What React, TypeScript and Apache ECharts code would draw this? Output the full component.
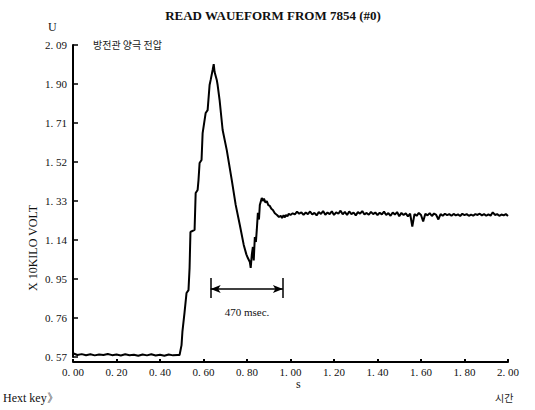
import React, { useEffect, useRef } from "react";
import * as echarts from "echarts";

const TITLE = "READ WAUEFORM FROM 7854 (#0)";
const Y_TICKS = [0.57, 0.76, 0.95, 1.14, 1.33, 1.52, 1.71, 1.9, 2.09];
const X_TICKS = [0, 0.2, 0.4, 0.6, 0.8, 1.0, 1.2, 1.4, 1.6, 1.8, 2.0];

// waveform: time (s) and voltage (x10 kV)
const baseTimes = [0.0, 0.02, 0.04, 0.06, 0.08, 0.1, 0.12, 0.14, 0.16, 0.18, 0.2, 0.22, 0.24, 0.26, 0.28, 0.3, 0.32, 0.34, 0.36, 0.38, 0.4, 0.42, 0.44, 0.46, 0.48];
const baseVolts = [0.588, 0.58, 0.584, 0.579, 0.583, 0.578, 0.582, 0.58, 0.585, 0.579, 0.582, 0.577, 0.583, 0.579, 0.581, 0.576, 0.582, 0.578, 0.583, 0.577, 0.581, 0.576, 0.582, 0.578, 0.58];

const pulseTimes = [0.49, 0.499, 0.503, 0.513, 0.522, 0.531, 0.536, 0.54, 0.559, 0.564, 0.573, 0.577, 0.582, 0.591, 0.596, 0.61, 0.619, 0.628, 0.633, 0.642, 0.647, 0.651, 0.661, 0.665, 0.674, 0.688, 0.707, 0.73, 0.748, 0.767, 0.785, 0.797, 0.804, 0.813, 0.817, 0.822, 0.827, 0.831, 0.836, 0.841, 0.845, 0.85, 0.855, 0.859, 0.868, 0.873, 0.878, 0.885, 0.891, 0.898, 0.905, 0.912, 0.919, 0.928, 0.938, 0.947, 0.955, 0.961, 0.968, 0.974, 0.979, 0.986, 0.992];
const pulseVolts = [0.58, 0.628, 0.692, 0.789, 0.882, 0.896, 1.004, 1.179, 1.189, 1.369, 1.384, 1.432, 1.515, 1.53, 1.661, 1.759, 1.773, 1.895, 1.92, 1.968, 1.997, 1.958, 1.92, 1.895, 1.822, 1.676, 1.578, 1.432, 1.311, 1.213, 1.116, 1.07, 1.052, 1.033, 1.004, 1.067, 1.106, 1.04, 1.155, 1.13, 1.189, 1.272, 1.24, 1.311, 1.345, 1.33, 1.342, 1.322, 1.33, 1.31, 1.306, 1.292, 1.286, 1.27, 1.262, 1.252, 1.258, 1.247, 1.26, 1.25, 1.262, 1.255, 1.268];

const plateauTimes = [1.0, 1.01, 1.02, 1.03, 1.04, 1.05, 1.06, 1.07, 1.08, 1.09, 1.1, 1.11, 1.12, 1.13, 1.14, 1.15, 1.16, 1.17, 1.18, 1.19, 1.2, 1.21, 1.22, 1.23, 1.24, 1.25, 1.26, 1.27, 1.28, 1.29, 1.3, 1.31, 1.32, 1.33, 1.34, 1.35, 1.36, 1.37, 1.38, 1.39, 1.4, 1.41, 1.42, 1.43, 1.44, 1.45, 1.46, 1.47, 1.48, 1.49, 1.5, 1.51, 1.52, 1.53, 1.54, 1.55, 1.56, 1.57, 1.58, 1.59, 1.6, 1.61, 1.62, 1.63, 1.64, 1.65, 1.66, 1.67, 1.68, 1.69, 1.7, 1.71, 1.72, 1.73, 1.74, 1.75, 1.76, 1.77, 1.78, 1.79, 1.8, 1.81, 1.82, 1.83, 1.84, 1.85, 1.86, 1.87, 1.88, 1.89, 1.9, 1.91, 1.92, 1.93, 1.94, 1.95, 1.96, 1.97, 1.98, 1.99, 2.0];
const plateauVolts = [1.262, 1.27, 1.265, 1.278, 1.268, 1.275, 1.262, 1.274, 1.266, 1.279, 1.264, 1.272, 1.26, 1.276, 1.267, 1.281, 1.263, 1.274, 1.266, 1.28, 1.262, 1.275, 1.268, 1.283, 1.265, 1.277, 1.262, 1.279, 1.266, 1.274, 1.26, 1.276, 1.268, 1.281, 1.264, 1.272, 1.263, 1.277, 1.266, 1.274, 1.261, 1.273, 1.265, 1.278, 1.262, 1.271, 1.258, 1.274, 1.264, 1.276, 1.256, 1.272, 1.262, 1.27, 1.255, 1.268, 1.205, 1.266, 1.258, 1.272, 1.262, 1.23, 1.268, 1.26, 1.271, 1.257, 1.269, 1.262, 1.24, 1.266, 1.258, 1.268, 1.261, 1.266, 1.258, 1.267, 1.26, 1.265, 1.257, 1.268, 1.261, 1.266, 1.258, 1.264, 1.259, 1.266, 1.262, 1.268, 1.26, 1.266, 1.258, 1.265, 1.259, 1.275, 1.262, 1.266, 1.258, 1.264, 1.26, 1.266, 1.257];

// annotation: interval marker
const MARK_START = 0.633;
const MARK_END = 0.965;
const MARK_LEVEL = 0.901;
const MARK_LOW = 0.857;
const MARK_HIGH = 0.955;
const MARK_TEXT = "470 msec.";
const MARK_TEXT_POS = [0.8, 0.79];

const SERIF = "'Liberation Serif', 'DejaVu Serif', serif";
const KR = "'Noto Sans CJK KR', sans-serif";

function fmt(v: number) {
  return v.toFixed(2).replace(".", ". ");
}

export default function App() {
  const ref = useRef<HTMLDivElement>(null);
  useEffect(() => {
    if (!ref.current) return;
    const chart = echarts.init(ref.current, null, { renderer: "svg" });
    const times = [...baseTimes, ...pulseTimes, ...plateauTimes];
    const volts = [...baseVolts, ...pulseVolts, ...plateauVolts];
    const data = times.map((t, i) => [t, volts[i]]);
    chart.setOption({
      animation: false,
      backgroundColor: "#fff",
      title: {
        text: TITLE,
        left: 268,
        top: 4,
        textAlign: "center",
        textStyle: { fontFamily: SERIF, fontSize: 13, fontWeight: "bold", color: "#111" },
      },
      grid: { left: 73, right: 27, top: 45, bottom: 53 },
      xAxis: {
        type: "value",
        min: 0,
        max: 2,
        interval: 0.2,
        offset: 5,
        axisLine: { lineStyle: { color: "#000", width: 2 } },
        axisTick: { inside: true, length: 3, lineStyle: { color: "#000", width: 2 } },
        axisLabel: {
          margin: 4,
          color: "#111",
          fontFamily: SERIF,
          fontSize: 11,
          formatter: (v: number) => fmt(v),
          customValues: X_TICKS,
        },
        splitLine: { show: false },
      },
      yAxis: {
        type: "value",
        min: 0.57,
        max: 2.09,
        interval: 0.19,
        axisLine: { onZero: false, lineStyle: { color: "#000", width: 2 } },
        axisTick: { inside: true, length: 5, lineStyle: { color: "#000", width: 1.5 } },
        axisLabel: {
          margin: 6,
          color: "#111",
          fontFamily: SERIF,
          fontSize: 11,
          formatter: (v: number) => fmt(v),
          customValues: Y_TICKS,
        },
        splitLine: { show: false },
      },
      graphic: [
        { type: "text", left: 48, top: 21, style: { text: "U", font: `12px ${SERIF}`, fill: "#111" } },
        { type: "text", left: 93, top: 39, style: { text: "방전관 양극 전압", font: `10px ${KR}`, fill: "#222" } },
        {
          type: "text",
          x: 33,
          y: 248,
          rotation: Math.PI / 2,
          style: { text: "X 10KILO VOLT", font: `12px ${SERIF}`, fill: "#111", align: "center", verticalAlign: "middle" },
        },
        { type: "text", left: 296, top: 378, style: { text: "s", font: `12px ${SERIF}`, fill: "#111" } },
        { type: "text", left: 495, top: 392, style: { text: "시간", font: `10px ${KR}`, fill: "#222" } },
        { type: "text", left: 3, top: 392, style: { text: "Hext key》", font: `12px ${SERIF}`, fill: "#111" } },
      ],
      series: [
        {
          type: "line",
          data,
          showSymbol: false,
          symbol: "none",
          lineStyle: { color: "#000", width: 2 },
          markLine: {
            silent: true,
            symbol: ["none", "none"],
            label: { show: false },
            lineStyle: { color: "#000", width: 1.5, type: "solid" },
            data: [
              [
                { coord: [MARK_START, MARK_LEVEL], symbol: "arrow", symbolSize: [6, 10] },
                { coord: [MARK_END, MARK_LEVEL], symbol: "arrow", symbolSize: [6, 10] },
              ],
              [
                { coord: [MARK_START, MARK_LOW], symbol: "none" },
                { coord: [MARK_START, MARK_HIGH], symbol: "none" },
              ],
              [
                { coord: [MARK_END, MARK_LOW], symbol: "none" },
                { coord: [MARK_END, MARK_HIGH], symbol: "none" },
              ],
            ],
          },
          markPoint: {
            silent: true,
            symbol: "circle",
            symbolSize: 0,
            label: {
              show: true,
              position: "inside",
              formatter: MARK_TEXT,
              color: "#111",
              fontFamily: SERIF,
              fontSize: 11,
            },
            data: [{ coord: MARK_TEXT_POS }],
          },
        },
      ],
    });
    return () => chart.dispose();
  }, []);
  return (
    <div
      ref={ref}
      style={{ position: "absolute", left: 0, top: 0, width: 535, height: 410, background: "#fff" }}
    />
  );
}
